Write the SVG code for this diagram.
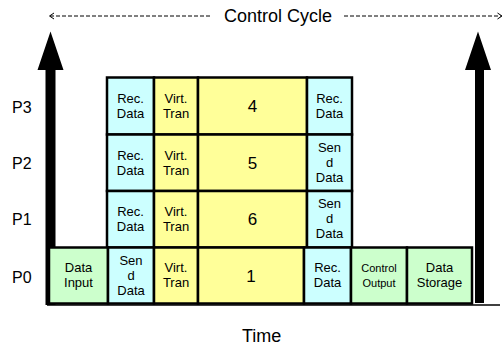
<svg xmlns="http://www.w3.org/2000/svg" width="503" height="348" viewBox="0 0 503 348">
  <defs>
    <style>
      text { font-family: "Liberation Sans", Arial, sans-serif; fill: #000; text-anchor: middle; }
      .box { stroke: #000; stroke-width: 2.5; }
      .cyan { fill: #ccffff; }
      .yel { fill: #ffff99; }
      .grn { fill: #ccffcc; }
      .t { font-size: 13px; }
      .ts { font-size: 11px; }
      .num { font-size: 17px; }
      .lbl { font-size: 16px; text-anchor: start; }
      .big { font-size: 18px; }
      .axis { fill: #000; stroke: none; }
      .dash { stroke: #000; stroke-width: 1; stroke-dasharray: 4 2; fill: none; }
      .tick { stroke: #000; stroke-width: 1; fill: none; }
    </style>
  </defs>
  <rect width="503" height="348" fill="#fff"/>

  <!-- connectors: axes, cycle span, time baseline -->
  <g id="connectors">
    <polygon class="axis" points="45.5,305 45.5,70 37.5,70 50.5,31.5 63.5,70 55.5,70 55.5,305"/>
    <polygon class="axis" points="475,303 475,70 465,70 478,31.5 491,70 484,70 484,303"/>
    <line x1="47" y1="305" x2="500" y2="305" stroke="#000" stroke-width="1.5"/>
    <line class="dash" x1="50" y1="16" x2="210" y2="16"/>
    <line class="dash" x1="344" y1="16" x2="501" y2="16"/>
    <polyline class="tick" points="54,13 49.5,16 54,19"/>
    <polyline class="tick" points="497.5,13 502,16 497.5,19"/>
  </g>

  <!-- row P3 -->
  <g id="p3-rec"><rect class="box cyan" x="107" y="77.5" width="47" height="57"/><text class="t" x="130.5" y="103.2">Rec.</text><text class="t" x="130.5" y="118.2">Data</text></g>
  <g id="p3-virt"><rect class="box yel" x="154" y="77.5" width="44" height="57"/><text class="t" x="176" y="103.2">Virt.</text><text class="t" x="176" y="118.2">Tran</text></g>
  <g id="p3-task"><rect class="box yel" x="198" y="77.5" width="109" height="57"/><text class="num" x="252.5" y="112">4</text></g>
  <g id="p3-rec2"><rect class="box cyan" x="307" y="77.5" width="45" height="57"/><text class="t" x="329.5" y="103.2">Rec.</text><text class="t" x="329.5" y="118.2">Data</text></g>

  <!-- row P2 -->
  <g id="p2-rec"><rect class="box cyan" x="107" y="134.5" width="47" height="56.5"/><text class="t" x="130.5" y="160">Rec.</text><text class="t" x="130.5" y="175">Data</text></g>
  <g id="p2-virt"><rect class="box yel" x="154" y="134.5" width="44" height="56.5"/><text class="t" x="176" y="160">Virt.</text><text class="t" x="176" y="175">Tran</text></g>
  <g id="p2-task"><rect class="box yel" x="198" y="134.5" width="109" height="56.5"/><text class="num" x="252.5" y="168.7">5</text></g>
  <g id="p2-send"><rect class="box cyan" x="307" y="134.5" width="45" height="56.5"/><text class="t" x="329.5" y="151.7">Sen</text><text class="t" x="329.5" y="166.7">d</text><text class="t" x="329.5" y="181.7">Data</text></g>

  <!-- row P1 -->
  <g id="p1-rec"><rect class="box cyan" x="107" y="191" width="47" height="56.5"/><text class="t" x="130.5" y="216.4">Rec.</text><text class="t" x="130.5" y="231.4">Data</text></g>
  <g id="p1-virt"><rect class="box yel" x="154" y="191" width="44" height="56.5"/><text class="t" x="176" y="216.4">Virt.</text><text class="t" x="176" y="231.4">Tran</text></g>
  <g id="p1-task"><rect class="box yel" x="198" y="191" width="109" height="56.5"/><text class="num" x="252.5" y="225.2">6</text></g>
  <g id="p1-send"><rect class="box cyan" x="307" y="191" width="45" height="56.5"/><text class="t" x="329.5" y="208.2">Sen</text><text class="t" x="329.5" y="223.2">d</text><text class="t" x="329.5" y="238.2">Data</text></g>

  <!-- row P0 -->
  <g id="p0-input"><rect class="box grn" x="49" y="247.5" width="59" height="56"/><text class="t" x="78.5" y="272.3">Data</text><text class="t" x="78.5" y="287.3">Input</text></g>
  <g id="p0-send"><rect class="box cyan" x="108" y="247.5" width="46" height="56"/><text class="t" x="131" y="265">Sen</text><text class="t" x="131" y="280">d</text><text class="t" x="131" y="295">Data</text></g>
  <g id="p0-virt"><rect class="box yel" x="154" y="247.5" width="44" height="56"/><text class="t" x="176" y="272.3">Virt.</text><text class="t" x="176" y="287.3">Tran</text></g>
  <g id="p0-task"><rect class="box yel" x="198" y="247.5" width="106" height="56"/><text class="num" x="251" y="281.5">1</text></g>
  <g id="p0-rec"><rect class="box cyan" x="304" y="247.5" width="47" height="56"/><text class="t" x="327.5" y="272.3">Rec.</text><text class="t" x="327.5" y="287.3">Data</text></g>
  <g id="p0-control"><rect class="box grn" x="351" y="247.5" width="56" height="56"/><text class="ts" x="379" y="271.7">Control</text><text class="ts" x="379" y="286.7">Output</text></g>
  <g id="p0-storage"><rect class="box grn" x="407" y="247.5" width="65" height="56"/><text class="t" x="439.5" y="272.3">Data</text><text class="t" x="439.5" y="287.3">Storage</text></g>

  <!-- axis labels -->
  <g id="labels">
    <text class="lbl" x="12" y="112.7">P3</text>
    <text class="lbl" x="12" y="168.9">P2</text>
    <text class="lbl" x="12" y="225.3">P1</text>
    <text class="lbl" x="12" y="283.3">P0</text>
    <text class="big" x="278" y="22.3">Control Cycle</text>
    <text class="big" x="261.7" y="341.7">Time</text>
  </g>
</svg>
